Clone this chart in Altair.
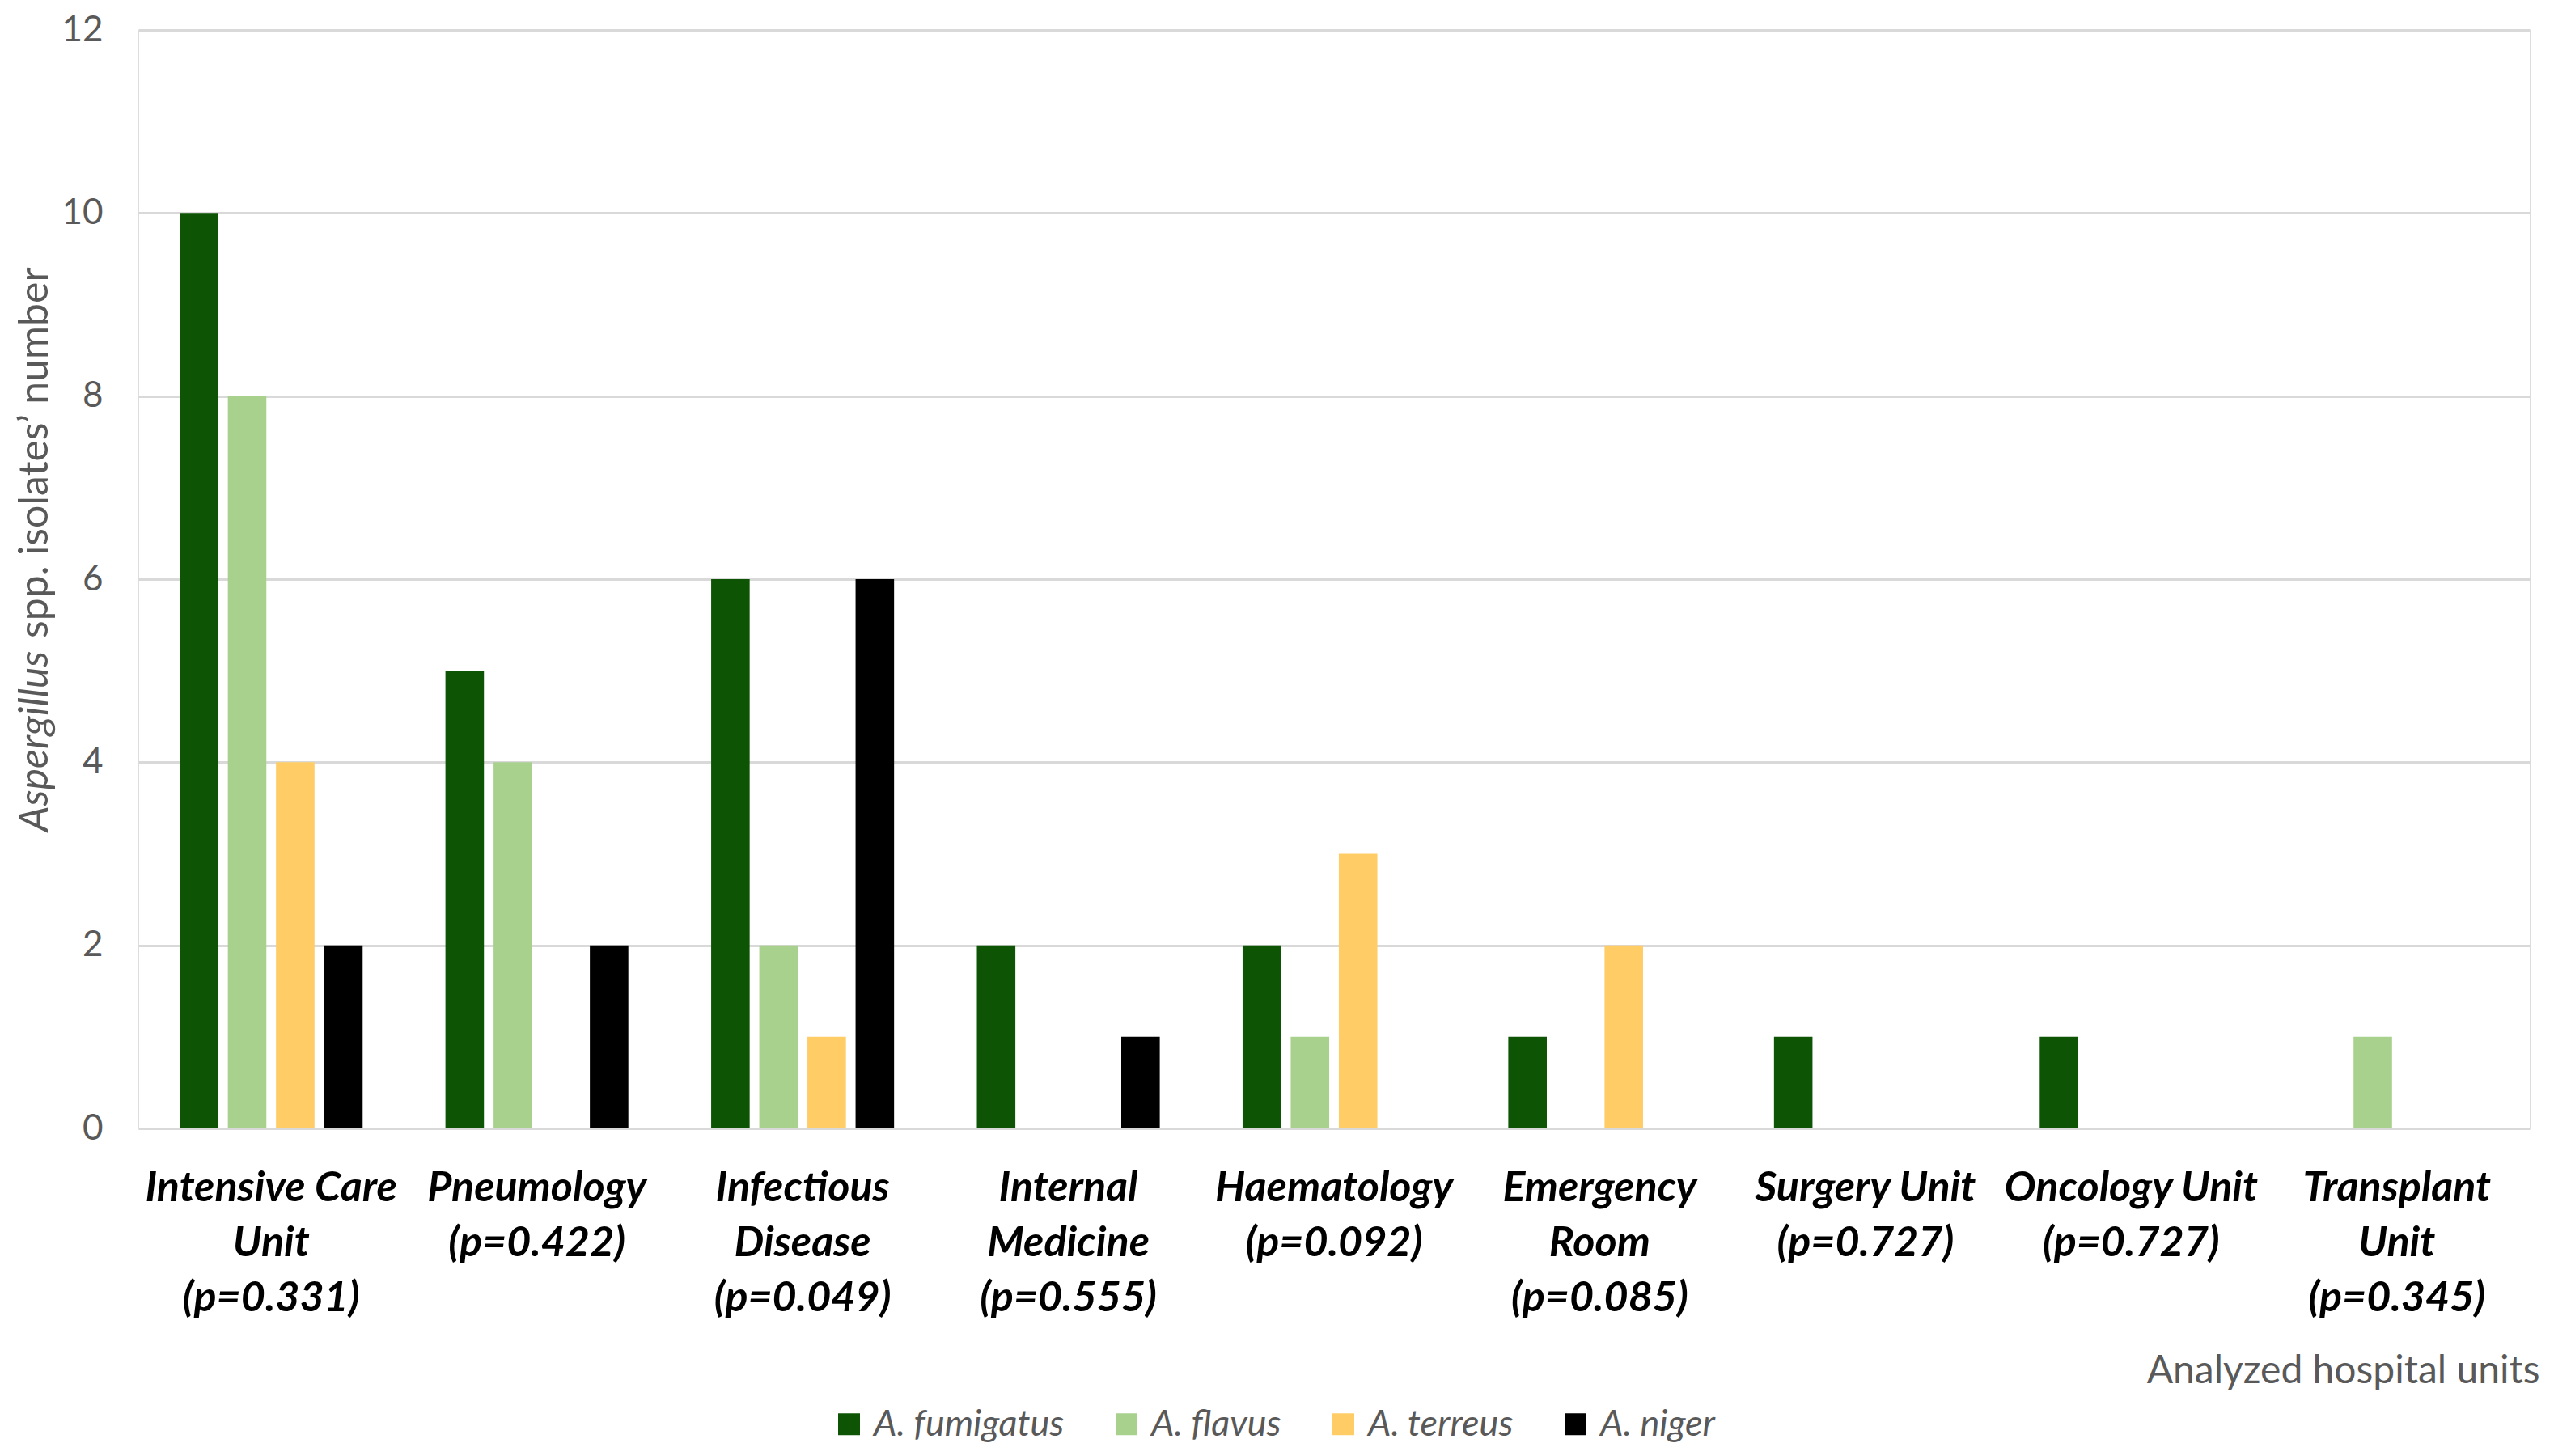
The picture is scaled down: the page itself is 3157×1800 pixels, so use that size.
import altair as alt
import pandas as pd

units = [
    "Intensive Care|Unit|(p=0.331)",
    "Pneumology|(p=0.422)",
    "Infectious|Disease|(p=0.049)",
    "Internal|Medicine|(p=0.555)",
    "Haematology|(p=0.092)",
    "Emergency|Room|(p=0.085)",
    "Surgery Unit|(p=0.727)",
    "Oncology Unit|(p=0.727)",
    "Transplant|Unit|(p=0.345)",
]
species = ["A. fumigatus", "A. flavus", "A. terreus", "A. niger"]
fumigatus = [10, 5, 6, 2, 2, 1, 1, 1, 0]
flavus = [8, 4, 2, 0, 1, 0, 0, 0, 1]
terreus = [4, 0, 1, 0, 3, 2, 0, 0, 0]
niger = [2, 2, 6, 1, 0, 0, 0, 0, 0]
colors = ["#0e5405", "#a9d18e", "#ffcc66", "#000000"]

rows = []
for i, u in enumerate(units):
    for s, vals in zip(species, [fumigatus, flavus, terreus, niger]):
        rows.append({"unit": u, "species": s, "count": vals[i]})
df = pd.DataFrame(rows)

FONT = "Lato"
W, H = 2956, 1358

bars = alt.Chart(df).mark_bar().encode(
    x=alt.X(
        "unit:N",
        sort=units,
        scale=alt.Scale(paddingInner=0, paddingOuter=0),
        axis=alt.Axis(
            title="Analyzed hospital units",
            labelExpr="split(datum.label, '|')",
            labelAngle=0,
            labelFont=FONT,
            labelFontSize=52,
            labelFontWeight="bold",
            labelFontStyle="italic",
            labelColor="#000000",
            labelLineHeight=68,
            labelPadding=48,
            labelOverlap=False,
            labelLimit=1000,
            labelBaseline="top",
            ticks=False,
            domain=False,
            titleFont=FONT,
            titleFontSize=48,
            titleFontWeight="normal",
            titleColor="#595959",
            titleAlign="right",
            titleAnchor="end",
            titleBaseline="middle",
            titleX=W + 12,
            titleY=300,
        ),
    ),
    xOffset=alt.XOffset(
        "species:N",
        sort=species,
        scale=alt.Scale(paddingInner=0.2, paddingOuter=0.86),
    ),
    y=alt.Y(
        "count:Q",
        scale=alt.Scale(domain=[0, 12]),
        axis=alt.Axis(
            title=None,
            values=[0, 2, 4, 6, 8, 10, 12],
            labelFont=FONT,
            labelFontSize=44,
            labelColor="#595959",
            labelPadding=44,
            ticks=False,
            domain=False,
            gridColor="#d9d9d9",
            gridWidth=3,
        ),
    ),
    color=alt.Color(
        "species:N",
        sort=species,
        scale=alt.Scale(domain=species, range=colors),
        legend=alt.Legend(
            title=None,
            orient="none",
            legendX=856,
            legendY=1701,
            direction="horizontal",
            symbolType="square",
            symbolSize=729,
            symbolStrokeWidth=0,
            labelFont=FONT,
            labelFontSize=45,
            labelFontStyle="italic",
            labelColor="#595959",
            labelOffset=8,
            labelLimit=1000,
            columnPadding=54,
        ),
    ),
)

t1 = alt.Chart(pd.DataFrame({"t": ["Aspergillus"]})).mark_text(
    angle=270, align="left", baseline="middle", font=FONT, fontSize=50,
    fontStyle="italic", color="#595959",
).encode(x=alt.value(-127), y=alt.value(991), text="t:N")

t2 = alt.Chart(pd.DataFrame({"t": ["spp. isolates\u2019 number"]})).mark_text(
    angle=270, align="left", baseline="middle", font=FONT, fontSize=50,
    color="#595959",
).encode(x=alt.value(-127), y=alt.value(752), text="t:N")

chart = alt.layer(bars, t1, t2).properties(
    width=W, height=H, padding={"left": 10, "top": 7, "right": 5, "bottom": 5}
).configure_view(stroke=None).configure(font=FONT, background="white")

chart.save("out.html", embed_options={"renderer": "svg", "actions": False})
